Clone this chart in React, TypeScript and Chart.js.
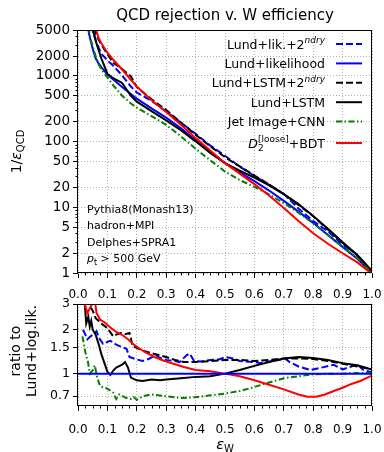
import React, { useEffect, useRef } from "react";
import { Chart, registerables } from "chart.js";

Chart.register(...registerables);

const FONT = "'DejaVu Sans', sans-serif";

// ---------- data: top panel (1/eps_QCD vs eps_W) ----------
const effW = [0.03, 0.04, 0.05, 0.06, 0.07, 0.08, 0.1, 0.12, 0.15, 0.18, 0.2, 0.25, 0.3, 0.35, 0.4, 0.45, 0.5, 0.55, 0.6, 0.65, 0.7, 0.75, 0.8, 0.85, 0.9, 0.95, 1.0];
const rejLundLik2 = [11375, 7020, 4890, 3570, 2710, 2160, 1730, 1425, 1020, 689, 558, 416, 288, 195, 131, 87, 61, 41.5, 30, 22, 16, 9.6, 6.2, 4.3, 2.7, 1.9, 1.02];
const rejLundLik = [6500, 3900, 2600, 1850, 1550, 1350, 1050, 880, 680, 530, 450, 320, 232, 160, 106, 70, 47, 34, 25, 18, 12.5, 8.6, 5.8, 3.8, 2.5, 1.65, 1.0];
const rejLundLSTM2 = [21450, 11310, 7020, 4440, 3565, 2970, 2150, 1584, 1278, 980, 675, 442, 302, 195, 127, 85, 58, 42, 30.5, 22.3, 15.9, 10.9, 7.3, 4.6, 2.9, 1.85, 1.07];
const rejLundLSTM = [14950, 8580, 5200, 3420, 2480, 1820, 1080, 924, 782, 498, 405, 291, 211, 149, 101, 67, 47, 36, 28.3, 21.6, 15.9, 11.2, 7.4, 4.7, 2.95, 1.88, 1.07];
const rejJetImageCNN = [8450, 4100, 2800, 2000, 1500, 1250, 950, 720, 500, 380, 330, 245, 180, 120, 78, 52, 35, 26, 20.5, 15.7, 11.6, 8.3, 5.7, 3.8, 2.5, 1.67, 1.0];
const rejD2BDT = [17550, 10920, 7930, 5365, 3800, 3105, 2258, 1760, 1251, 875, 689, 426, 283, 181, 113, 73, 47, 32.6, 22.5, 15.1, 9.75, 6.2, 4.03, 2.79, 2.0, 1.45, 0.97];

// ---------- data: bottom panel (ratio to Lund+log.lik.) [eps_W, ratio] ----------
const ratioLundLik: [number, number][] = [[0, 1], [1, 1]];
const ratioLundLik2: [number, number][] = [[0.017, 2.0], [0.025, 1.85], [0.032, 1.72], [0.043, 1.8], [0.055, 1.88], [0.063, 1.95], [0.072, 1.75], [0.085, 1.6], [0.1, 1.65], [0.11, 1.68], [0.13, 1.58], [0.15, 1.52], [0.165, 1.48], [0.175, 1.3], [0.2, 1.25], [0.22, 1.22], [0.24, 1.26], [0.265, 1.34], [0.28, 1.28], [0.3, 1.24], [0.33, 1.22], [0.345, 1.2], [0.37, 1.34], [0.38, 1.37], [0.395, 1.22], [0.42, 1.21], [0.45, 1.24], [0.48, 1.25], [0.5, 1.3], [0.53, 1.27], [0.55, 1.22], [0.6, 1.2], [0.62, 1.18], [0.66, 1.22], [0.69, 1.25], [0.7, 1.29], [0.72, 1.2], [0.75, 1.12], [0.79, 1.06], [0.82, 1.09], [0.87, 1.15], [0.9, 1.07], [0.93, 1.12], [0.95, 1.16], [0.97, 1.06], [1.0, 1.02]];
const ratioLundLSTM2: [number, number][] = [[0.03, 3.3], [0.04, 2.9], [0.05, 2.7], [0.06, 2.4], [0.07, 2.3], [0.08, 2.2], [0.1, 2.05], [0.12, 1.8], [0.13, 1.85], [0.145, 1.9], [0.16, 1.86], [0.175, 1.9], [0.18, 1.75], [0.185, 1.55], [0.2, 1.5], [0.22, 1.44], [0.25, 1.38], [0.28, 1.33], [0.3, 1.3], [0.33, 1.24], [0.36, 1.2], [0.4, 1.2], [0.45, 1.22], [0.5, 1.24], [0.55, 1.24], [0.6, 1.22], [0.65, 1.24], [0.7, 1.27], [0.75, 1.27], [0.8, 1.26], [0.85, 1.22], [0.9, 1.17], [0.95, 1.12], [1.0, 1.07]];
const ratioLundLSTM: [number, number][] = [[0.022, 3.2], [0.028, 2.2], [0.035, 2.45], [0.04, 2.1], [0.045, 2.3], [0.05, 2.0], [0.06, 1.85], [0.07, 1.6], [0.08, 1.35], [0.09, 1.18], [0.1, 1.03], [0.11, 0.98], [0.12, 1.05], [0.13, 1.1], [0.15, 1.15], [0.16, 1.2], [0.17, 1.1], [0.18, 0.94], [0.2, 0.9], [0.22, 0.89], [0.25, 0.91], [0.28, 0.9], [0.3, 0.91], [0.35, 0.93], [0.4, 0.95], [0.45, 0.96], [0.5, 1.0], [0.55, 1.06], [0.6, 1.13], [0.65, 1.2], [0.7, 1.27], [0.75, 1.3], [0.8, 1.28], [0.85, 1.24], [0.9, 1.18], [0.95, 1.14], [0.99, 1.08], [1.0, 1.07]];
const ratioJetImageCNN: [number, number][] = [[0.015, 1.8], [0.025, 1.4], [0.034, 1.2], [0.04, 1.0], [0.05, 1.05], [0.057, 1.14], [0.065, 0.95], [0.075, 0.82], [0.09, 0.8], [0.1, 0.79], [0.12, 0.74], [0.13, 0.67], [0.14, 0.72], [0.165, 0.68], [0.18, 0.67], [0.19, 0.69], [0.2, 0.66], [0.22, 0.7], [0.25, 0.72], [0.3, 0.7], [0.35, 0.68], [0.4, 0.69], [0.45, 0.71], [0.5, 0.73], [0.55, 0.76], [0.6, 0.81], [0.65, 0.87], [0.7, 0.93], [0.75, 0.96], [0.8, 0.99], [0.85, 1.0], [0.9, 1.0], [0.95, 1.01], [1.0, 1.01]];
const ratioD2BDT: [number, number][] = [[0.02, 3.3], [0.025, 2.9], [0.032, 2.6], [0.04, 2.8], [0.05, 3.05], [0.057, 3.2], [0.063, 2.6], [0.075, 2.35], [0.09, 2.25], [0.11, 2.07], [0.13, 1.93], [0.15, 1.84], [0.17, 1.72], [0.19, 1.58], [0.21, 1.48], [0.23, 1.4], [0.26, 1.3], [0.29, 1.23], [0.33, 1.16], [0.36, 1.11], [0.4, 1.06], [0.45, 1.04], [0.5, 1.0], [0.55, 0.96], [0.6, 0.9], [0.65, 0.84], [0.7, 0.78], [0.75, 0.72], [0.78, 0.695], [0.81, 0.695], [0.84, 0.72], [0.87, 0.76], [0.9, 0.8], [0.93, 0.85], [0.96, 0.89], [0.99, 0.95], [1.0, 0.97]];

// ---------- tick labels ----------
const topYTicks = [1, 2, 5, 10, 20, 50, 100, 200, 500, 1000, 2000, 5000];
const botYTicks = [0.7, 1, 1.5, 2, 3];
const annotationLines = ["Pythia8(Monash13)", "hadron+MPI", "Delphes+SPRA1"];

// ---------- styles ----------
const BLUE = "#0000ff";
const BLACK = "#000000";
const GREEN = "#008000";
const RED = "#ff0000";
const DASH = [7, 3];
const DASHDOT = [6, 2.5, 1.5, 2.5];

type Part = { t: string; size: number; italic?: boolean; dy?: number; stay?: boolean };
const fontOf = (p: Part) => `${p.italic ? "italic " : ""}${p.size}px ${FONT}`;

function partsWidth(ctx: CanvasRenderingContext2D, parts: Part[]) {
  let w = 0;
  let pending = 0;
  for (const p of parts) {
    ctx.font = fontOf(p);
    const pw = ctx.measureText(p.t).width;
    if (p.stay) pending = Math.max(pending, pw);
    else {
      w += Math.max(pw, pending);
      pending = 0;
    }
  }
  return w + pending;
}

function drawParts(ctx: CanvasRenderingContext2D, parts: Part[], x: number, y: number, align: "left" | "right" | "center") {
  const w = partsWidth(ctx, parts);
  let cx = align === "right" ? x - w : align === "center" ? x - w / 2 : x;
  let pending = 0;
  ctx.textAlign = "left";
  ctx.textBaseline = "alphabetic";
  for (const p of parts) {
    ctx.font = fontOf(p);
    const pw = ctx.measureText(p.t).width;
    ctx.fillText(p.t, cx, y + (p.dy || 0));
    if (p.stay) pending = Math.max(pending, pw);
    else {
      cx += Math.max(pw, pending);
      pending = 0;
    }
  }
}

const LS = 12.5;
const SUP = 9;
const legendEntries: { parts: Part[]; color: string; dash: number[] }[] = [
  { parts: [{ t: "Lund+lik.+2", size: LS }, { t: "ndry", size: SUP, italic: true, dy: -5.5 }], color: BLUE, dash: DASH },
  { parts: [{ t: "Lund+likelihood", size: LS }], color: BLUE, dash: [] },
  { parts: [{ t: "Lund+LSTM+2", size: LS }, { t: "ndry", size: SUP, italic: true, dy: -5.5 }], color: BLACK, dash: DASH },
  { parts: [{ t: "Lund+LSTM", size: LS }], color: BLACK, dash: [] },
  { parts: [{ t: "Jet Image+CNN", size: LS }], color: GREEN, dash: DASHDOT },
  {
    parts: [
      { t: "D", size: LS, italic: true },
      { t: "2", size: SUP, dy: 3.5, stay: true },
      { t: "[loose]", size: SUP, dy: -5.5 },
      { t: "+BDT", size: LS },
    ],
    color: RED,
    dash: [],
  },
];
const legendRowY = [44, 63.4, 82.8, 102.2, 121.6, 143];

function drawFrame(chart: any) {
  const { ctx, chartArea: a } = chart;
  ctx.save();
  ctx.strokeStyle = "#000";
  ctx.lineWidth = 1;
  ctx.setLineDash([]);
  ctx.strokeRect(Math.round(a.left) - 0.5, Math.round(a.top) + 0.5, Math.round(a.right) - Math.round(a.left), Math.round(a.bottom) - Math.round(a.top) - 1);
  ctx.restore();
}

function drawMinorX(chart: any) {
  const { ctx, chartArea: a, scales } = chart;
  ctx.save();
  ctx.strokeStyle = "#000";
  ctx.lineWidth = 1;
  ctx.setLineDash([]);
  ctx.beginPath();
  for (let k = 1; k < 40; k++) {
    if (k % 4 === 0) continue;
    const px = Math.round(scales.x.getPixelForValue(k * 0.025)) + 0.5;
    ctx.moveTo(px, a.bottom);
    ctx.lineTo(px, a.bottom + 2.5);
  }
  ctx.stroke();
  ctx.restore();
}

const lineDs = (label: string, pts: { x: number; y: number }[], color: string, dash: number[]) => ({
  label,
  data: pts,
  borderColor: color,
  backgroundColor: color,
  borderWidth: 2,
  borderDash: dash,
  pointRadius: 0,
  fill: false,
  tension: 0,
});

const toPts = (ys: number[]) => effW.map((x, i) => ({ x, y: ys[i] }));
const pairPts = (arr: [number, number][]) => arr.map(([x, y]) => ({ x, y }));

const gridCommon = {
  color: "#b0b0b0",
  lineWidth: 1,
  tickColor: "#000",
  tickLength: 5,
  tickWidth: 1,
  tickBorderDash: [],
};
const borderCommon = { display: false, dash: [1, 2] };
const xTickFont = { family: FONT, size: 12 };

const fitX = (h: number) => (s: any) => {
  s.height = h;
  s.paddingLeft = 0;
  s.paddingRight = 0;
};
const fitY = (s: any) => {
  s.width = 78;
  s.paddingTop = 0;
  s.paddingBottom = 0;
};

function makeTop(canvas: HTMLCanvasElement) {
  const decor = {
    id: "topDecor",
    afterDraw(chart: any) {
      const { ctx, chartArea: a, scales } = chart;
      drawFrame(chart);
      drawMinorX(chart);
      ctx.save();
      ctx.strokeStyle = "#000";
      ctx.lineWidth = 1;
      ctx.beginPath();
      for (const d of [1, 10, 100, 1000]) {
        for (const m of [3, 4, 6, 7, 8, 9]) {
          const v = m * d;
          if (v > 5000) continue;
          const py = Math.round(scales.y.getPixelForValue(v)) + 0.5;
          ctx.moveTo(a.left, py);
          ctx.lineTo(a.left - 2.5, py);
        }
      }
      ctx.stroke();
      ctx.fillStyle = "#000";
      drawParts(ctx, [{ t: "QCD rejection v. W efficiency", size: 15 }], (a.left + a.right) / 2, 20, "center");
      ctx.save();
      ctx.translate(16, (a.top + a.bottom) / 2);
      ctx.rotate(-Math.PI / 2);
      drawParts(
        ctx,
        [
          { t: "1/", size: 14 },
          { t: "ε", size: 14, italic: true },
          { t: "QCD", size: 10, dy: 3 },
        ],
        0,
        5,
        "center"
      );
      ctx.restore();
      legendEntries.forEach((e, i) => {
        const y = legendRowY[i];
        ctx.fillStyle = "#000";
        drawParts(ctx, e.parts, 325, y + 4.5, "right");
        ctx.save();
        ctx.strokeStyle = e.color;
        ctx.lineWidth = 2;
        ctx.setLineDash(e.dash);
        ctx.beginPath();
        ctx.moveTo(336, y);
        ctx.lineTo(362, y);
        ctx.stroke();
        ctx.restore();
      });
      ctx.fillStyle = "#000";
      const base = [212.5, 229, 245.5];
      annotationLines.forEach((t, i) => drawParts(ctx, [{ t, size: 11 }], 87, base[i], "left"));
      drawParts(
        ctx,
        [
          { t: "p", size: 11, italic: true },
          { t: "t", size: 8, dy: 2.5 },
          { t: " > 500 GeV", size: 11 },
        ],
        87,
        262,
        "left"
      );
      ctx.restore();
    },
  };

  return new Chart(canvas, {
    type: "line",
    data: {
      datasets: [
        lineDs("D2+BDT", toPts(rejD2BDT), RED, []),
        lineDs("Jet Image+CNN", toPts(rejJetImageCNN), GREEN, DASHDOT),
        lineDs("Lund+LSTM", toPts(rejLundLSTM), BLACK, []),
        lineDs("Lund+LSTM+2ndry", toPts(rejLundLSTM2), BLACK, DASH),
        lineDs("Lund+likelihood", toPts(rejLundLik), BLUE, []),
        lineDs("Lund+lik.+2ndry", toPts(rejLundLik2), BLUE, DASH),
      ] as any,
    },
    options: {
      animation: false,
      responsive: false,
      maintainAspectRatio: false,
      devicePixelRatio: 1,
      events: [],
      layout: { padding: { left: 0, right: 12, top: 30, bottom: 0 } },
      plugins: { legend: { display: false }, tooltip: { enabled: false }, title: { display: false } },
      scales: {
        x: {
          type: "linear",
          min: 0,
          max: 1,
          afterFit: fitX(27),
          ticks: { stepSize: 0.1, autoSkip: false, maxRotation: 0, padding: 10, color: "#000", font: xTickFont, callback: (v: any) => Number(v).toFixed(1) },
          grid: gridCommon,
          border: borderCommon,
        },
        y: {
          type: "logarithmic",
          min: 1,
          max: 5000,
          afterBuildTicks: (s: any) => {
            s.ticks = topYTicks.map((v) => ({ value: v }));
          },
          afterFit: fitY,
          ticks: { autoSkip: false, padding: 3, color: "#000", font: { family: FONT, size: 13.5 }, callback: (v: any) => String(v) },
          grid: gridCommon,
          border: borderCommon,
        },
      },
    } as any,
    plugins: [decor],
  });
}

function makeBottom(canvas: HTMLCanvasElement) {
  const decor = {
    id: "botDecor",
    afterDraw(chart: any) {
      const { ctx, chartArea: a } = chart;
      drawFrame(chart);
      drawMinorX(chart);
      ctx.save();
      ctx.fillStyle = "#000";
      const cy = (a.top + a.bottom) / 2 - 4;
      ctx.save();
      ctx.translate(0, cy);
      ctx.rotate(-Math.PI / 2);
      drawParts(ctx, [{ t: "ratio to", size: 14 }], 0, 20, "center");
      drawParts(ctx, [{ t: "Lund+log.lik.", size: 14 }], 0, 36, "center");
      ctx.restore();
      drawParts(
        ctx,
        [
          { t: "ε", size: 14.5, italic: true },
          { t: "W", size: 10, dy: 3 },
        ],
        (a.left + a.right) / 2,
        158.5,
        "center"
      );
      ctx.restore();
    },
  };

  return new Chart(canvas, {
    type: "line",
    data: {
      datasets: [
        lineDs("Lund+likelihood", pairPts(ratioLundLik), BLUE, []),
        lineDs("D2+BDT", pairPts(ratioD2BDT), RED, []),
        lineDs("Jet Image+CNN", pairPts(ratioJetImageCNN), GREEN, DASHDOT),
        lineDs("Lund+LSTM", pairPts(ratioLundLSTM), BLACK, []),
        lineDs("Lund+LSTM+2ndry", pairPts(ratioLundLSTM2), BLACK, DASH),
        lineDs("Lund+lik.+2ndry", pairPts(ratioLundLik2), BLUE, DASH),
      ] as any,
    },
    options: {
      animation: false,
      responsive: false,
      maintainAspectRatio: false,
      devicePixelRatio: 1,
      events: [],
      layout: { padding: { left: 0, right: 12, top: 14, bottom: 0 } },
      plugins: { legend: { display: false }, tooltip: { enabled: false }, title: { display: false } },
      scales: {
        x: {
          type: "linear",
          min: 0,
          max: 1,
          afterFit: fitX(46),
          ticks: { stepSize: 0.1, autoSkip: false, maxRotation: 0, padding: 12, color: "#000", font: xTickFont, callback: (v: any) => Number(v).toFixed(1) },
          grid: gridCommon,
          border: borderCommon,
        },
        y: {
          type: "logarithmic",
          min: 0.6,
          max: 3,
          afterBuildTicks: (s: any) => {
            s.ticks = botYTicks.map((v) => ({ value: v }));
          },
          afterFit: fitY,
          ticks: { autoSkip: false, padding: 3, color: "#000", font: { family: FONT, size: 12.5 }, callback: (v: any) => String(v) },
          grid: gridCommon,
          border: borderCommon,
        },
      },
    } as any,
    plugins: [decor],
  });
}

export default function App() {
  const topRef = useRef<HTMLCanvasElement>(null);
  const botRef = useRef<HTMLCanvasElement>(null);
  useEffect(() => {
    const charts = [makeTop(topRef.current!), makeBottom(botRef.current!)];
    return () => charts.forEach((c) => c.destroy());
  }, []);
  return (
    <div style={{ position: "absolute", left: 0, top: 0, width: 384, height: 452, background: "#fff", overflow: "hidden" }}>
      <canvas ref={topRef} width={384} height={300} style={{ position: "absolute", left: 0, top: 0, width: 384, height: 300 }} />
      <canvas ref={botRef} width={384} height={162} style={{ position: "absolute", left: 0, top: 290, width: 384, height: 162 }} />
    </div>
  );
}
